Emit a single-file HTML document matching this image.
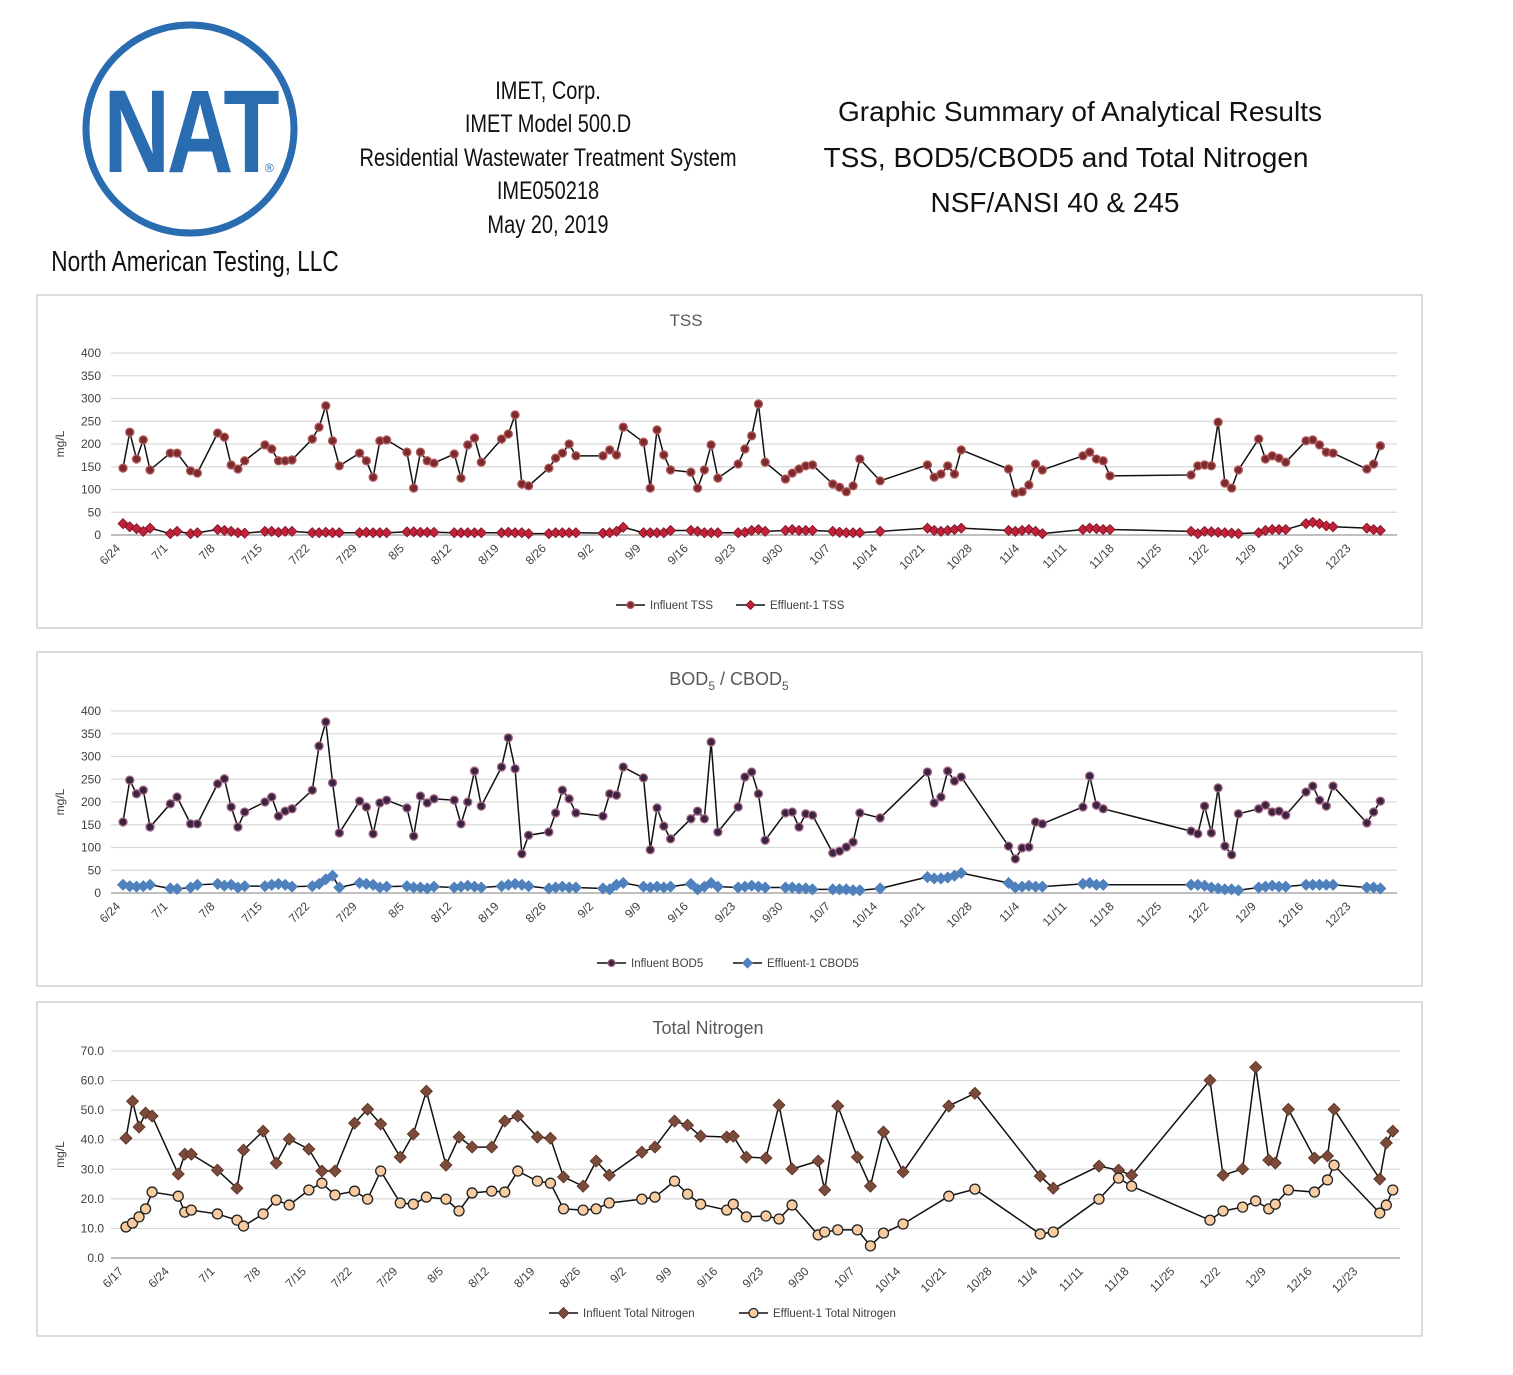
<!DOCTYPE html>
<html><head><meta charset="utf-8"><style>
body{margin:0;background:#fff;}
svg{display:block;font-family:"Liberation Sans",sans-serif;}
</style></head><body>
<svg id="page" width="1513" height="1375" viewBox="0 0 1513 1375">
<g>
<circle cx="190" cy="129" r="104" fill="none" stroke="#2a6cb0" stroke-width="7"/>
<text x="190" y="172" text-anchor="middle" font-size="118" font-weight="bold" fill="#2a6cb0" transform="translate(190 0) scale(0.78 1) translate(-190 0)" letter-spacing="-4">NAT</text>
<text x="265" y="172" font-size="12" fill="#2a6cb0">®</text>
</g>
<text x="195" y="271" text-anchor="middle" font-size="29" fill="#111" transform="translate(195 0) scale(0.78 1) translate(-195 0)">North American Testing, LLC</text>
<g font-size="25" fill="#111" text-anchor="middle" transform="translate(548 0) scale(0.8 1) translate(-548 0)">
<text x="548" y="99">IMET, Corp.</text>
<text x="548" y="132">IMET Model 500.D</text>
<text x="548" y="166">Residential Wastewater Treatment System</text>
<text x="548" y="199">IME050218</text>
<text x="548" y="233">May 20, 2019</text>
</g>
<g font-size="28" fill="#111" text-anchor="middle">
<text x="1080" y="121">Graphic Summary of Analytical Results</text>
<text x="1066" y="167">TSS, BOD5/CBOD5 and Total Nitrogen</text>
<text x="1055" y="212">NSF/ANSI 40 &amp; 245</text>
</g>
<g id="charts"></g>
</svg>
<script>
// ---- TSS data ----
const tssDays=[0,1,2,3,4,7,8,10,11,14,15,16,17,18,21,22,23,24,25,28,29,30,31,32,35,36,37,38,39,42,43,44,45,46,49,50,51,52,53,56,57,58,59,60,63,64,65,66,67,71,72,73,74,77,78,79,80,81,84,85,86,87,88,91,92,93,94,95,98,99,100,101,102,105,106,107,108,109,112,119,120,121,122,123,124,131,132,133,134,135,136,142,143,144,145,146,158,159,160,161,162,163,164,165,168,169,170,171,172,175,176,177,178,179,184,185,186];
const tssInfluent=[147,226,167,209,143,180,180,141,136,224,215,154,145,163,198,189,163,163,165,211,237,284,207,152,180,163,127,207,209,182,103,182,163,158,178,125,198,213,160,211,222,264,112,108,147,169,180,200,174,174,187,176,237,204,103,231,176,143,138,103,143,198,125,156,189,218,288,160,123,136,145,152,154,112,105,95,108,167,119,154,127,134,152,134,187,145,92,95,110,156,143,174,182,167,163,130,132,152,154,152,248,114,103,143,211,167,174,169,160,207,209,198,182,180,145,156,196];
const tssEffluent=[25,18,14,8,15,3,8,3,5,12,10,8,5,4,8,8,6,8,8,5,5,6,5,5,5,6,5,5,5,7,7,6,6,6,5,5,5,5,5,5,6,5,5,3,3,5,5,5,5,4,5,8,17,5,5,5,5,10,10,8,5,5,5,5,6,10,12,8,10,12,10,10,10,8,6,5,5,5,8,15,10,8,10,12,15,10,8,10,12,8,3,12,15,14,12,12,8,3,8,7,6,5,4,3,5,10,12,12,12,25,28,25,20,18,15,12,10];
// ---- BOD data ----
const bodDays=[0,1,2,3,4,7,8,10,11,14,15,16,17,18,21,22,23,24,25,28,29,30,31,32,35,36,37,38,39,42,43,44,45,46,49,50,51,52,53,56,57,58,59,60,63,64,65,66,67,71,72,73,74,77,78,79,80,81,84,85,86,87,88,91,92,93,94,95,98,99,100,101,102,105,106,107,108,109,112,119,120,121,122,123,124,131,132,133,134,135,136,142,143,144,145,158,159,160,161,162,163,164,165,168,169,170,171,172,175,176,177,178,179,184,185,186];
const bodInfluent=[156,248,218,226,145,196,211,152,152,240,251,189,145,178,200,211,169,180,185,226,323,376,242,132,202,189,130,198,204,187,125,213,198,207,204,152,200,268,191,277,341,273,86,127,134,176,226,207,176,169,218,215,277,253,95,187,147,119,163,180,163,332,134,189,255,266,218,116,176,178,145,174,171,88,92,101,112,176,165,266,198,211,268,246,255,103,75,99,101,156,152,189,257,193,185,136,130,191,132,231,103,84,174,185,193,178,180,171,222,235,204,191,235,154,178,202];
const bodEffluent=[18,15,14,15,18,10,9,12,18,20,16,18,12,15,15,18,20,18,14,15,20,30,38,12,22,20,18,12,14,15,12,12,10,14,12,14,16,14,12,15,18,20,18,15,10,12,14,12,12,10,8,18,22,14,12,14,12,14,20,8,14,22,14,12,14,16,14,12,12,12,10,10,8,8,8,8,6,6,10,35,32,32,34,38,44,22,12,14,16,14,14,20,22,18,18,18,18,16,12,10,8,8,6,12,14,16,14,14,18,18,18,18,18,12,12,10];
const weekLabelsA=["6/24","7/1","7/8","7/15","7/22","7/29","8/5","8/12","8/19","8/26","9/2","9/9","9/16","9/23","9/30","10/7","10/14","10/21","10/28","11/4","11/11","11/18","11/25","12/2","12/9","12/16","12/23"];
// ---- Total Nitrogen data ----
const tnDays=[0,1,2,3,4,8,9,10,14,17,18,21,23,25,28,30,32,35,37,39,42,44,46,49,51,53,56,58,60,63,65,67,70,72,74,79,81,84,86,88,92,93,95,98,100,102,106,107,109,112,114,116,119,126,130,140,142,149,152,154,166,168,171,173,175,176,178,182,184,185,192,193,194];
const tnInfluent=[40.5,53,44.3,49,48,28.4,35.1,35.1,29.7,23.6,36.5,42.9,32.1,40.2,36.8,29.4,29.4,45.6,50.3,45.3,34.1,41.9,56.4,31.4,40.9,37.5,37.5,46.3,48,40.9,40.5,27.4,24.3,32.8,28,35.8,37.5,46.3,44.9,41.2,40.9,41.2,34.1,33.8,51.7,30.1,32.8,23,51.4,34.1,24.3,42.6,29.1,51.4,55.7,27.7,23.6,31.1,29.7,28,60.1,28,30.1,64.5,33.1,32.1,50.3,33.8,34.5,50.3,26.7,38.9,42.9];
const tnEffluent=[10.5,11.8,13.9,16.6,22.3,20.9,15.5,16.2,14.9,12.8,10.8,14.9,19.6,17.9,23,25.3,21.3,22.6,19.9,29.4,18.6,18.2,20.6,19.9,15.9,22,22.6,22.3,29.4,26,25.3,16.6,16.2,16.6,18.6,19.9,20.6,26,21.6,18.2,16.2,18.2,13.9,14.2,13.2,17.9,7.8,8.8,9.5,9.5,4.1,8.4,11.5,20.9,23.3,8.1,8.8,19.9,27,24.3,12.8,15.9,17.2,19.3,16.6,18.2,23,22.3,26.4,31.4,15.2,17.9,23];
const weekLabelsB=["6/17","6/24","7/1","7/8","7/15","7/22","7/29","8/5","8/12","8/19","8/26","9/2","9/9","9/16","9/23","9/30","10/7","10/14","10/21","10/28","11/4","11/11","11/18","11/25","12/2","12/9","12/16","12/23"];
const tssTicks=[0,50,100,150,200,250,300,350,400];
const tnTicks=[0,10,20,30,40,50,60,70];

const NS="http://www.w3.org/2000/svg";
const root=document.getElementById('charts');
function mk(tag,attrs,parent){const e=document.createElementNS(NS,tag);for(const k in attrs)e.setAttribute(k,attrs[k]);(parent||root).appendChild(e);return e;}
function marker(g,type,x,y,fill,stroke,r){
  let m;
  if(type==='circle'){m=mk('circle',{cx:x,cy:y,r:r,fill:fill,stroke:stroke,'stroke-width':1.3},g);}
  else{m=mk('polygon',{points:`${x},${y-r} ${x+r},${y} ${x},${y+r} ${x-r},${y}`,fill:fill,stroke:stroke,'stroke-width':0.8},g);}
  return m;
}
function chart(c){
  const g=mk('g',{});
  
  
  const box=mk('rect',{x:c.bx,y:c.by,width:1385,height:c.bh,fill:'#fff',stroke:'#d0d0d0','stroke-width':1.5},g);
  
  
  const ys=v=>c.y0-(v-c.ymin)/(c.ymax-c.ymin)*(c.y0-c.y1);
  const xs=d=>c.x0+d*c.ppd;
  c.ticks.forEach(t=>{
    const l=mk('line',{x1:c.gx0,x2:c.gx1,y1:ys(t),y2:ys(t),stroke:t===c.ymin?'#bfbfbf':'#d9d9d9','stroke-width':t===c.ymin?2:1.2},g);
    
    
    const tx=mk('text',{x:c.tickX,y:ys(t)+4,'text-anchor':'end','font-size':12,fill:'#404040'},g);
    tx.textContent=c.fmt(t);
    
    
  });
  c.xl.forEach((lab,i)=>{
    const x=xs(i*7)-2,y=c.y0+14;
    const t=mk('text',{x:x,y:y,'text-anchor':'end','font-size':12,fill:'#404040',transform:`rotate(-45 ${x} ${y})`},g);
    t.textContent=lab;
    
    
  });
  const yt=mk('text',{x:64,y:(c.y0+c.y1)/2,'text-anchor':'middle','font-size':12,fill:'#404040',transform:`rotate(-90 64 ${(c.y0+c.y1)/2})`},g);
  yt.textContent='mg/L';
  
  
  const ti=mk('text',{x:c.tx,y:c.ty,'text-anchor':'middle','font-size':c.tfs,fill:'#595959'},g);
  ti.innerHTML=c.title;
  
  
  c.series.forEach(s=>{
    const sg=mk('g',{},g);
    
    
    const pts=s.vals.map((v,i)=>xs(s.days[i])+','+ys(v)).join(' ');
    mk('polyline',{points:pts,fill:'none',stroke:'#111','stroke-width':1.5},sg);
    s.vals.forEach((v,i)=>{
      const m=marker(sg,s.type,xs(s.days[i]),ys(v),s.fill,s.stroke,s.r);
      
      
    });
    const lg=mk('g',{},g);
    
    
    mk('line',{x1:s.lx,x2:s.lx+29,y1:c.ly,y2:c.ly,stroke:'#111','stroke-width':1.5},lg);
    marker(lg,s.type,s.lx+14.5,c.ly,s.fill,s.stroke,s.r-0.5);
    const lt=mk('text',{x:s.lx+34,y:c.ly+4,'font-size':11.5,fill:'#404040'},lg);
    lt.textContent=s.label;
  });
}
chart({name:'tss-chart',bx:37,by:295,bh:333,y0:535,y1:353,ymin:0,ymax:400,ticks:tssTicks,fmt:v=>String(v),tickX:101,gx0:111,gx1:1397,x0:123,ppd:6.76,xl:weekLabelsA,title:'TSS',tx:686,ty:326,tfs:17,ly:605,
 series:[{name:'influent-tss-series',label:'Influent TSS',days:tssDays,vals:tssInfluent,type:'circle',fill:'#7b2b2e',stroke:'#b3595c',r:4,lx:616},
         {name:'effluent-tss-series',label:'Effluent-1 TSS',days:tssDays,vals:tssEffluent,type:'diamond',fill:'#c0223a',stroke:'#7b1020',r:5,lx:736}]});
chart({name:'bod-chart',bx:37,by:652,bh:334,y0:893,y1:711,ymin:0,ymax:400,ticks:tssTicks,fmt:v=>String(v),tickX:101,gx0:111,gx1:1397,x0:123,ppd:6.76,xl:weekLabelsA,title:'BOD<tspan font-size="12" dy="5">5</tspan><tspan dy="-5"> / CBOD</tspan><tspan font-size="12" dy="5">5</tspan>',tx:729,ty:685,tfs:18,ly:963,
 series:[{name:'influent-bod5-series',label:'Influent BOD5',days:bodDays,vals:bodInfluent,type:'circle',fill:'#3a2440',stroke:'#a26483',r:4,lx:597},
         {name:'effluent-cbod5-series',label:'Effluent-1 CBOD5',days:bodDays,vals:bodEffluent,type:'diamond',fill:'#4f81bd',stroke:'#4f81bd',r:5.5,lx:733}]});
chart({name:'total-nitrogen-chart',bx:37,by:1002,bh:334,y0:1258,y1:1051,ymin:0,ymax:70,ticks:tnTicks,fmt:v=>v.toFixed(1),tickX:104,gx0:111,gx1:1400,x0:126,ppd:6.53,xl:weekLabelsB,title:'Total Nitrogen',tx:708,ty:1034,tfs:18,ly:1313,
 series:[{name:'influent-tn-series',label:'Influent Total Nitrogen',days:tnDays,vals:tnInfluent,type:'diamond',fill:'#7b4a3a',stroke:'#5a3020',r:6,lx:549},
         {name:'effluent-tn-series',label:'Effluent-1 Total Nitrogen',days:tnDays,vals:tnEffluent,type:'circle',fill:'#f8cba0',stroke:'#222',r:5,lx:739}]});
</script>
</body></html>
